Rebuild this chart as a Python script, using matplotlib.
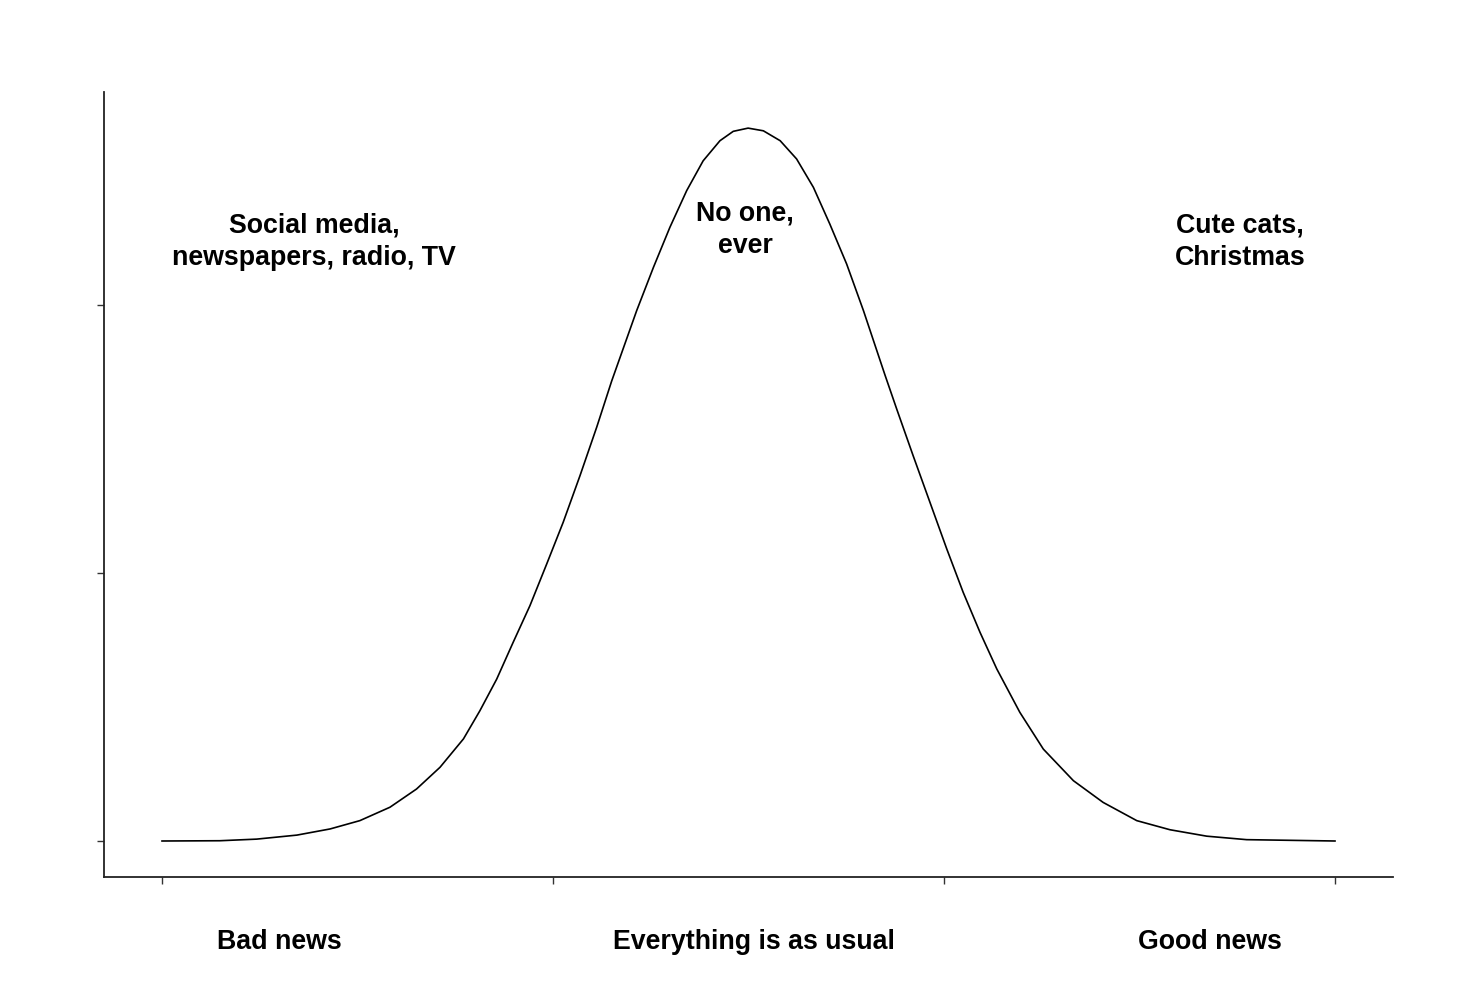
import matplotlib
matplotlib.use('Agg')
import matplotlib.pyplot as plt

# curve (x in tick units 0..3, y in tick units)
curve_x = [0.0, 0.148, 0.242, 0.345, 0.430, 0.506, 0.583, 0.651, 0.711, 0.771,
           0.813, 0.856, 0.898, 0.941, 0.984, 1.026, 1.069, 1.112, 1.150, 1.214,
           1.257, 1.299, 1.342, 1.384, 1.427, 1.461, 1.499, 1.538, 1.581, 1.623,
           1.666, 1.708, 1.751, 1.794, 1.849, 1.879, 1.921, 1.964, 2.007, 2.049,
           2.092, 2.135, 2.194, 2.254, 2.331, 2.407, 2.493, 2.578, 2.672, 2.774,
           3.0]
curve_y = [0.0, 0.001, 0.007, 0.022, 0.045, 0.076, 0.126, 0.194, 0.275, 0.381,
           0.486, 0.604, 0.741, 0.878, 1.034, 1.189, 1.363, 1.545, 1.716, 1.979,
           2.141, 2.290, 2.427, 2.538, 2.613, 2.648, 2.660, 2.650, 2.613, 2.545,
           2.439, 2.302, 2.153, 1.979, 1.739, 1.612, 1.438, 1.264, 1.090, 0.928,
           0.779, 0.642, 0.480, 0.343, 0.225, 0.144, 0.076, 0.042, 0.018, 0.005,
           0.0]

x_ticks = [0, 1, 2, 3]
y_ticks = [0, 1, 2]

notes = ['Social media,\nnewspapers, radio, TV', 'No one,\never', 'Cute cats,\nChristmas']
notes_x = [0.389, 1.491, 2.757]
notes_y = [2.239, 2.283, 2.239]

bottom_labels = ['Bad news', 'Everything is as usual', 'Good news']
bottom_x = [0.299, 1.514, 2.680]
bottom_y = -0.372

fig = plt.figure(figsize=(14.72, 10.04), dpi=100)
ax = fig.add_axes([104 / 1472, 1 - 878 / 1004, (1393 - 104) / 1472, (878 - 93) / 1004])

ax.plot(curve_x, curve_y, color='black', lw=1.2, solid_joinstyle='round')

ax.set_xlim(-58 / 391, 1231 / 391)
ax.set_ylim(-36 / 268, 749 / 268)
ax.set_xticks(x_ticks)
ax.set_yticks(y_ticks)
ax.set_xticklabels([])
ax.set_yticklabels([])
ax.tick_params(direction='out', length=5, width=1, color='#333333')
for side in ['top', 'right']:
    ax.spines[side].set_visible(False)
for side in ['left', 'bottom']:
    ax.spines[side].set_linewidth(1.3)
    ax.spines[side].set_color('#222222')

for label, x, y in zip(notes, notes_x, notes_y):
    ax.text(x, y, label, ha='center', va='center', fontsize=19.3, fontweight='bold',
            family=['Liberation Sans', 'DejaVu Sans'], linespacing=1.32)

for label, x in zip(bottom_labels, bottom_x):
    ax.text(x, bottom_y, label, ha='center', va='center', fontsize=19.3, fontweight='bold',
            family=['Liberation Sans', 'DejaVu Sans'], clip_on=False)

fig.savefig('out.png', dpi=100, facecolor='white')
